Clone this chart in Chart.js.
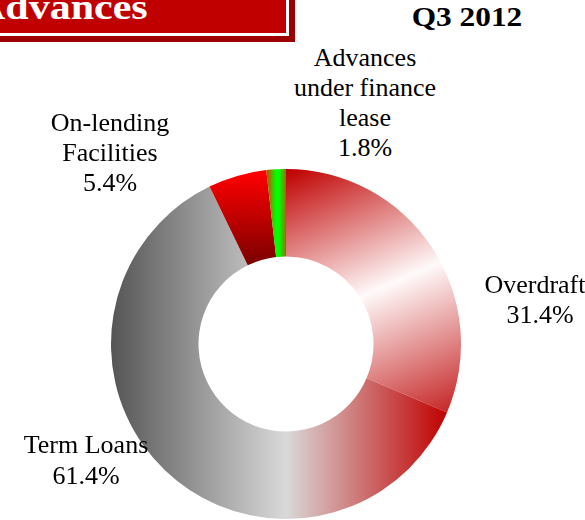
<!DOCTYPE html>
<html lang="en">
<head>
  <meta charset="UTF-8">
  <title>Advances Q3 2012</title>
  <style>
    body {
      margin: 0;
      width: 585px;
      height: 520px;
      overflow: hidden;
      position: relative;
      background: #ffffff;
      font-family: "Liberation Serif", "Times New Roman", serif;
    }
    .header-box {
      position: absolute;
      left: -10px;
      top: -10px;
      width: 299px;
      height: 46px;
      box-sizing: border-box;
      background: #c00000;
      border: 3px solid #ffffff;
      box-shadow: 6px 6px 0 #9c0000;
    }
    .header-text {
      position: absolute;
      left: -25px;
      top: -10px;
      font-size: 35px;
      line-height: 35px;
      font-weight: bold;
      color: #ffffff;
      white-space: nowrap;
      transform: scaleX(1.2);
      transform-origin: left top;
    }
    .period {
      position: absolute;
      left: 367px;
      top: 2px;
      width: 200px;
      text-align: center;
      font-size: 27px;
      line-height: 30px;
      font-weight: bold;
      color: #000;
      transform: scaleX(1.16);
    }
    .chart-box {
      position: absolute;
      left: 111px;
      top: 169px;
      width: 350px;
      height: 350px;
    }
    .slice-label {
      position: absolute;
      width: 200px;
      text-align: center;
      font-size: 26px;
      line-height: 30px;
      color: #000;
      white-space: nowrap;
    }
  </style>
</head>
<body>
  <div class="header-box"></div>
  <div class="header-text">Advances</div>
  <div class="period">Q3 2012</div>

  <div class="chart-box"><canvas id="chart"></canvas></div>
  <div id="labels"></div>

  <script src="https://cdn.jsdelivr.net/npm/chart.js"></script>
  <script>
    // data
    const categories = ['Overdrafts', 'Term Loans', 'On-lending Facilities', 'Advances under finance lease'];
    const categoryLines = [['Overdrafts'], ['Term Loans'], ['On-lending', 'Facilities'], ['Advances', 'under finance', 'lease']];
    const shares = [31.4, 61.4, 5.4, 1.8];

    // where each label sits (centre x, top y)
    const labelSpots = [[540, 270], [86, 429], [110, 108], [365, 43]];

    const labelsEl = document.getElementById('labels');
    categories.forEach((c, i) => {
      const div = document.createElement('div');
      div.className = 'slice-label';
      div.style.left = (labelSpots[i][0] - 100) + 'px';
      div.style.top = labelSpots[i][1] + 'px';
      if (i === 1) div.style.lineHeight = '31px';
      div.innerHTML = categoryLines[i].concat([shares[i].toFixed(1) + '%']).join('<br>');
      labelsEl.appendChild(div);
    });

    // gradient fills, in canvas coordinates
    function makeFill(ctx, i) {
      let g;
      if (i === 0) {
        g = ctx.createLinearGradient(226, -20, 342, 246);
        g.addColorStop(0, '#c00000');
        g.addColorStop(0.5, '#fffafa');
        g.addColorStop(1, '#c42020');
      } else if (i === 1) {
        g = ctx.createLinearGradient(0, 0, 350, 0);
        g.addColorStop(0, '#555555');
        g.addColorStop(0.5, '#d9d9d9');
        g.addColorStop(0.96, '#c00000');
        g.addColorStop(1, '#c00000');
      } else if (i === 2) {
        g = ctx.createLinearGradient(0, 3, 0, 93);
        g.addColorStop(0, '#ff0000');
        g.addColorStop(1, '#7f0000');
      } else {
        g = ctx.createLinearGradient(156, 0, 176, 0);
        g.addColorStop(0, '#c05000');
        g.addColorStop(0.45, '#00ff00');
        g.addColorStop(0.6, '#00ff00');
        g.addColorStop(1, '#a06000');
      }
      return g;
    }

    new Chart(document.getElementById('chart'), {
      type: 'doughnut',
      data: {
        labels: categories,
        datasets: [{
          data: shares,
          backgroundColor: (c) => makeFill(c.chart.ctx, c.dataIndex),
          borderWidth: 0
        }]
      },
      options: {
        responsive: true,
        maintainAspectRatio: false,
        animation: false,
        cutout: '50%',
        layout: { padding: 0 },
        plugins: {
          legend: { display: false },
          tooltip: { enabled: false }
        }
      }
    });
  </script>
</body>
</html>
